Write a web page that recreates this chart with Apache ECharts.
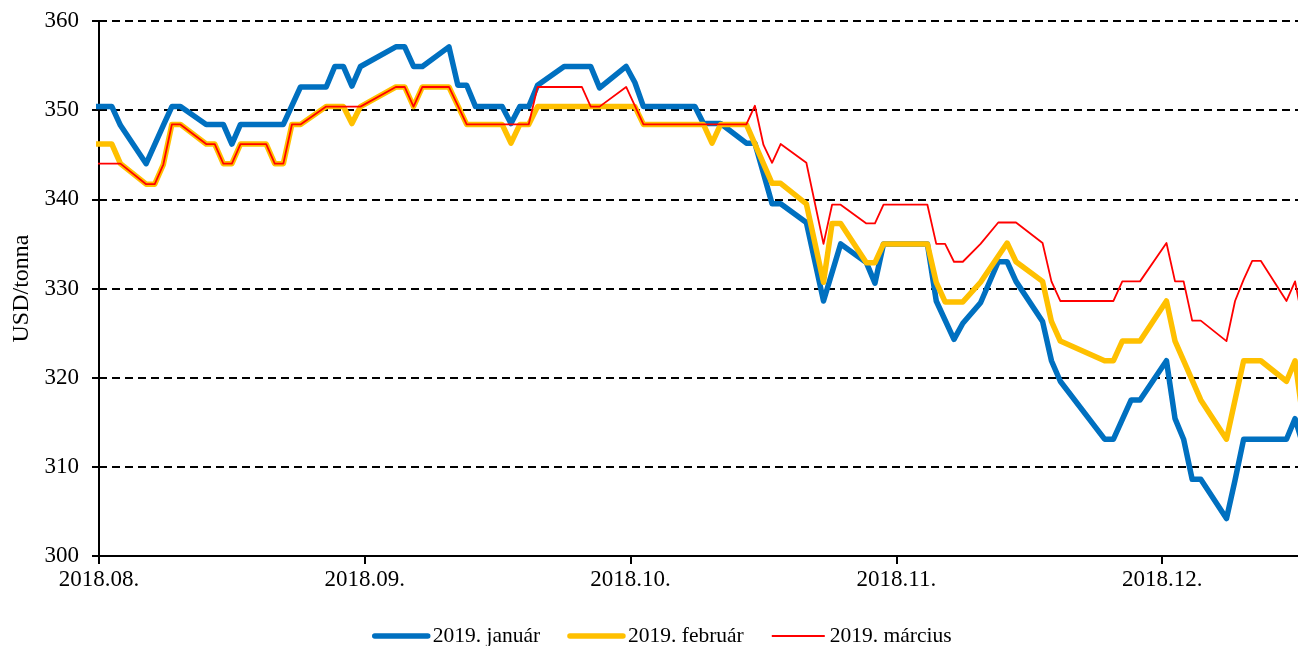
<!DOCTYPE html>
<html>
<head>
<meta charset="utf-8">
<style>
  html, body { margin: 0; padding: 0; background: #fff; }
  #chart { width: 1298px; height: 646px; }
</style>
<script src="https://cdn.jsdelivr.net/npm/echarts@6/dist/echarts.min.js"></script>
</head>
<body>
<div id="chart"></div>
<script>
// trading days (null = no vertex for that series)
const dates = [
  '2018-07-31', '2018-08-01', '2018-08-02', '2018-08-03', '2018-08-06', '2018-08-07', '2018-08-08', '2018-08-09',
  '2018-08-10', '2018-08-13', '2018-08-14', '2018-08-15', '2018-08-16', '2018-08-17', '2018-08-20', '2018-08-21',
  '2018-08-22', '2018-08-23', '2018-08-24', '2018-08-27', '2018-08-28', '2018-08-29', '2018-08-30', '2018-08-31',
  '2018-09-04', '2018-09-05', '2018-09-06', '2018-09-07', '2018-09-10', '2018-09-11', '2018-09-12', '2018-09-13',
  '2018-09-16', '2018-09-17', '2018-09-18', '2018-09-19', '2018-09-20', '2018-09-23', '2018-09-25', '2018-09-26',
  '2018-09-27', '2018-09-30', '2018-10-01', '2018-10-02', '2018-10-08', '2018-10-09', '2018-10-10', '2018-10-11',
  '2018-10-14', '2018-10-15', '2018-10-16', '2018-10-17', '2018-10-18', '2018-10-21', '2018-10-23', '2018-10-24',
  '2018-10-25', '2018-10-28', '2018-10-29', '2018-10-30', '2018-11-04', '2018-11-05', '2018-11-06', '2018-11-07',
  '2018-11-08', '2018-11-10', '2018-11-12', '2018-11-13', '2018-11-14', '2018-11-17', '2018-11-18', '2018-11-19',
  '2018-11-24', '2018-11-25', '2018-11-26', '2018-11-27', '2018-11-28', '2018-12-01', '2018-12-02', '2018-12-03',
  '2018-12-04', '2018-12-05', '2018-12-08', '2018-12-09', '2018-12-10', '2018-12-11', '2018-12-12', '2018-12-15',
  '2018-12-16', '2018-12-17'
]

const januar = [
  350.4, 350.4, 350.4, 348.3, 344.0, null, 348.3, 350.4,
  350.4, 348.4, null, 348.4, 346.2, 348.4, null, null,
  348.4, null, 352.6, 352.6, 354.9, 354.9, 352.7, 354.9,
  357.1, 357.1, 354.9, 354.9, 357.1, 352.8, 352.8, 350.4,
  350.4, 348.5, 350.4, 350.4, 352.8, 354.9, null, 354.9,
  352.5, 354.9, 353.1, 350.4, 350.4, 348.5, null, 348.5,
  346.3, 346.3, null, 339.5, 339.5, 337.4, 328.6, null,
  335.0, 332.9, 330.6, 335.0, 335.0, 328.6, null, 324.3,
  326.1, 328.4, 333.0, 333.0, 330.8, 326.3, 321.9, 319.6,
  313.1, 313.1, null, 317.5, 317.5, 321.9, 315.4, 313.1,
  308.6, 308.6, 304.2, 308.5, 313.1, null, null, 313.1,
  315.4, 312.2
]

const februar = [
  346.2, 346.2, 346.2, 344.0, 341.7, 341.7, 343.9, 348.4,
  348.4, 346.2, 346.2, 344.0, 344.0, 346.2, 346.2, 344.0,
  344.0, 348.4, 348.4, 350.4, null, 350.4, 348.5, 350.4,
  352.6, 352.6, 350.4, 352.6, 352.6, null, 348.4, null,
  348.4, 346.3, 348.4, 348.4, 350.4, null, null, null,
  null, null, 350.4, 348.4, null, 348.4, 346.3, 348.4,
  348.4, null, null, 341.8, 341.8, 339.5, 330.7, 337.3,
  337.3, 332.9, 332.9, 335.0, 335.0, 330.7, 328.5, null,
  328.5, 330.7, null, 335.1, 333.0, 330.8, 326.3, 324.1,
  321.9, 321.9, 324.1, null, 324.1, 328.6, 324.1, 321.9,
  null, 317.5, 313.1, 317.5, 321.9, null, 321.9, 319.6,
  321.9, 314.8
]

const marcius = [
  344.0, 344.0, 344.0, 344.0, 341.7, 341.7, 343.9, 348.4,
  348.4, 346.2, 346.2, 344.0, 344.0, 346.2, 346.2, 344.0,
  344.0, 348.4, 348.4, 350.4, null, 350.4, 350.4, 350.4,
  352.6, 352.6, 350.4, 352.6, 352.6, null, 348.4, null,
  348.4, 348.4, 348.4, 348.4, 352.6, null, 352.6, 350.4,
  350.4, 352.6, null, 348.4, null, null, null, null,
  348.4, 350.5, 346.1, 344.1, 346.2, 344.1, 335.0, 339.4,
  339.4, 337.3, 337.3, 339.4, 339.4, 335.0, 335.0, 333.0,
  333.0, 335.0, 337.4, null, 337.4, 335.1, 330.8, 328.6,
  null, 328.6, 330.8, null, 330.8, 335.1, 330.8, 330.8,
  326.4, 326.4, 324.1, 328.6, 331.0, 333.1, 333.1, 328.6,
  330.8, 325.8
]

const monthTicks = [8, 9, 10, 11, 12]
const monthLabels = ['2018.08.', '2018.09.', '2018.10.', '2018.11.', '2018.12.']
const yTicks = { min: 300, max: 360, step: 10 }

// each month gets the same width on the axis, a day sits in the middle of its slot
function monthPos(d) {
  const [y, m, day] = d.split('-').map(Number)
  const days = new Date(y, m, 0).getDate()
  return m + (day - 0.5) / days
}

function pairs(values) {
  return dates
    .map((d, i) => (values[i] == null ? null : [monthPos(d), values[i]]))
    .filter(Boolean)
}

const font = 'Liberation Serif'
const blue = '#0070C0'
const gold = '#FFC000'
const red = '#FF0000'

const chart = echarts.init(document.getElementById('chart'), null, { renderer: 'canvas' })
chart.setOption({
  animation: false,
  textStyle: { fontFamily: font, color: '#000' },
  grid: { left: 99, right: 0, top: 21, bottom: 90 },
  legend: {
    left: 367,
    top: 620,
    itemWidth: 53,
    itemHeight: 14,
    itemGap: 27,
    itemStyle: { opacity: 0 },
    textStyle: { fontFamily: font, fontSize: 21.5, color: '#000' },
    data: [
      { name: '2019. január', lineStyle: { width: 5.5, color: blue } },
      { name: '2019. február', lineStyle: { width: 5.5, color: gold } },
      { name: '2019. március', lineStyle: { width: 2, color: red } }
    ]
  },
  xAxis: {
    type: 'value',
    min: 8,
    max: 12.511,
    interval: 1,
    axisLine: { lineStyle: { color: '#000', width: 2 } },
    axisTick: { customValues: monthTicks, length: 8, lineStyle: { color: '#000', width: 2 } },
    axisLabel: {
      customValues: monthTicks,
      margin: 12,
      fontSize: 23,
      fontFamily: font,
      color: '#000',
      formatter: (v) => monthLabels[monthTicks.indexOf(Math.round(v))]
    },
    splitLine: { show: false }
  },
  yAxis: [
    {
      type: 'value',
      min: yTicks.min,
      max: yTicks.max,
      interval: yTicks.step,
      name: 'USD/tonna',
      nameLocation: 'middle',
      nameRotate: 90,
      nameGap: 64,
      nameTextStyle: { fontFamily: font, fontSize: 24, color: '#000' },
      axisLine: { show: true, lineStyle: { color: '#000', width: 2 } },
      axisTick: { show: true, length: 7, lineStyle: { color: '#000', width: 2 } },
      axisLabel: { margin: 20, fontSize: 23, fontFamily: font, color: '#000' },
      splitLine: { show: true, lineStyle: { color: '#000', width: 2, type: [8, 5] } }
    },
    {
      type: 'value',
      min: yTicks.min,
      max: yTicks.max,
      interval: yTicks.step,
      position: 'left',
      axisLine: { show: false },
      axisTick: { show: true, inside: true, length: 7, lineStyle: { color: '#000', width: 2 } },
      axisLabel: { show: false },
      splitLine: { show: false }
    }
  ],
  series: [
    {
      name: '2019. január',
      type: 'line',
      data: pairs(januar),
      symbol: 'none',
      color: blue,
      lineStyle: { color: blue, width: 5.5, join: 'round', cap: 'round' }
    },
    {
      name: '2019. február',
      type: 'line',
      data: pairs(februar),
      symbol: 'none',
      color: gold,
      lineStyle: { color: gold, width: 5.5, join: 'round', cap: 'round' }
    },
    {
      name: '2019. március',
      type: 'line',
      data: pairs(marcius),
      symbol: 'none',
      color: red,
      lineStyle: { color: red, width: 1.8, join: 'round' }
    }
  ]
})
</script>
</body>
</html>
